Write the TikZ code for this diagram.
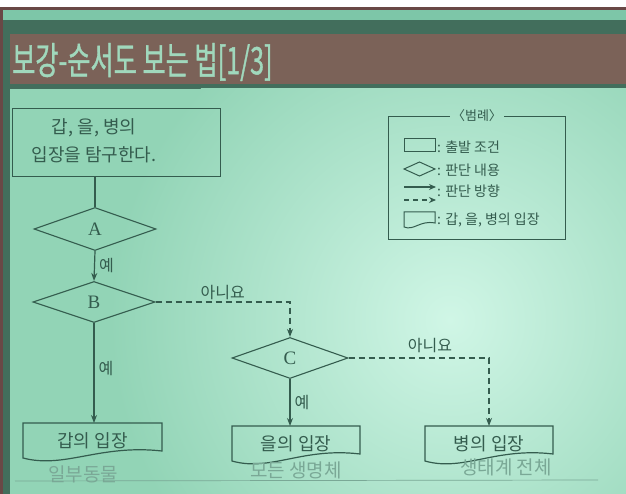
\documentclass[tikz,border=0pt]{standalone}
\usepackage{fontspec}
\setmainfont{Noto Sans CJK KR}
\newfontfamily\serifabc{Liberation Serif}
\newfontfamily\titlefont[FakeBold=1.2]{Noto Sans CJK KR}
\usetikzlibrary{shapes.geometric,arrows.meta,calc}
\definecolor{ink}{RGB}{52,92,78}
\definecolor{slideout}{RGB}{146,212,182}
\definecolor{slidein}{RGB}{208,246,230}
\definecolor{bandlight}{RGB}{125,198,168}
\definecolor{banddark}{RGB}{66,110,92}
\definecolor{titlebar}{RGB}{123,98,88}
\definecolor{titletext}{RGB}{160,216,188}
\definecolor{edgemaroon}{RGB}{105,72,70}
\definecolor{pencil}{RGB}{122,168,150}
\tikzset{
  flow/.style={draw=ink, line width=1.2pt},
  arr/.style={flow, -{Stealth[length=8pt,width=6pt]}},
  noarr/.style={flow, dash pattern=on 6pt off 4pt, -{Stealth[length=8pt,width=6pt]}},
  diam/.style={diamond, draw=ink, line width=1.1pt, inner sep=0pt, text=ink,
    font=\serifabc\fontsize{19}{19}\selectfont},
  lbl/.style={text=ink, font=\fontsize{16}{16}\selectfont, inner sep=1pt},
  boxtext/.style={text=ink, font=\fontsize{18}{28}\selectfont, align=center, inner sep=0pt},
  doctext/.style={text=ink, font=\fontsize{18}{18}\selectfont, inner sep=0pt, anchor=north, minimum height=36pt},
  legtext/.style={text=ink, font=\fontsize{14}{14}\selectfont, inner sep=0pt, anchor=west},
  hand/.style={text=pencil, font=\fontsize{19}{19}\selectfont, inner sep=0pt}
}
\newcommand\docbox[5]{%
  \node[doctext, minimum width=#4] (#1) at (#2+#4/2,#3) {#5};
  \draw[flow] (#2,#3) -- (#2+#4,#3) -- (#2+#4,#3+28)
    .. controls (#2+0.55*#4,#3+21) and (#2+0.3*#4,#3+46) .. (#2,#3+35) -- cycle;
}
\begin{document}
\begin{tikzpicture}[x=1pt,y=-1pt]
\useasboundingbox (0,0) rectangle (626,494);
% frame and bands
\fill[white] (-2,-2) rectangle (628,7);
\fill[edgemaroon] (-2,7) rectangle (628,10);
\fill[bandlight] (-2,10) rectangle (628,20);
\fill[banddark] (-2,20) rectangle (628,34);
\fill[titlebar] (-2,34) rectangle (628,84);
\fill[banddark] (-2,84) rectangle (628,89);
\fill[slideout] (10,89) rectangle (628,496);
\begin{scope}
  \clip (10,89) rectangle (628,496);
  \shade[inner color=slidein, outer color=slideout] (450,320) circle (340);
\end{scope}
\fill[banddark] (3,34) rectangle (10,496);
\fill[edgemaroon] (-2,7) rectangle (3,496);
\node[text=titletext, anchor=west, inner sep=0pt] (title) at (12,62)
  {\scalebox{0.70}[1.05]{\titlefont\fontsize{36}{36}\selectfont 보강-순서도 보는 법[1/3]}};

% start box
\node[draw=ink, line width=1.1pt, minimum width=208pt, minimum height=68pt,
  anchor=north west, inner sep=0pt] (start) at (12,108) {};
\node[boxtext] (starttxt) at (94,141) {갑, 을, 병의\\입장을 탐구한다.};

% diamonds
\node[diam, minimum width=122pt, minimum height=43pt] (A) at (95,229) {A};
\node[diam, minimum width=122pt, minimum height=41pt] (B) at (94,302) {B};
\node[diam, minimum width=116pt, minimum height=41pt] (C) at (290,358) {C};

% positions (documents)
\docbox{gap}{23}{423}{139}{갑의 입장}
\docbox{eul}{232}{426}{128}{을의 입장}
\docbox{byeong}{425}{426}{128}{병의 입장}

% connectors
\draw[flow] (A.north |- start.south) -- (A.north);
\draw[arr] (A.south) -- node[lbl, right, xshift=3pt] {예} (B.north);
\draw[arr] (B.south) -- node[lbl, right, xshift=3pt, pos=0.45] {예} (B.south |- gap.north);
\draw[noarr] (B.east) -- node[lbl, above, yshift=1pt, pos=0.5] {아니요} (C.north |- B.east) -- (C.north);
\draw[arr] (C.south) -- node[lbl, right, xshift=3pt] {예} (C.south |- eul.north);
\draw[noarr] (C.east) -- node[lbl, above, yshift=4pt, pos=0.58] {아니요} (byeong.north |- C.east) -- (byeong.north);

% legend
\node[text=ink, font=\fontsize{13}{13}\selectfont, inner sep=2pt] (legtitle) at (477,116) {〈범례〉};
\draw[ink, line width=0.9pt] (legtitle.west) -- (388,116) -- (388,239) -- (565,239) -- (565,116) -- (legtitle.east);
\draw[ink, line width=1pt] (404,139) rectangle (435,152);
\node[legtext] (l1) at (437,147) {: 출발 조건};
\draw[ink, line width=1pt] (404,169) -- (419.5,162) -- (435,169) -- (419.5,176) -- cycle;
\node[legtext] (l2) at (437,170) {: 판단 내용};
\coordinate (s1) at (404,187); \coordinate (s2) at (436,187);
\draw[ink, line width=1.3pt, -{Stealth[length=7pt,width=6pt]}] (s1) -- (s2);
\coordinate (d1) at (404,200); \coordinate (d2) at (436,200);
\draw[ink, line width=1.3pt, dash pattern=on 5pt off 4pt, -{Stealth[length=7pt,width=6pt]}] (d1) -- (d2);
\node[legtext] (l3) at (437,191) {: 판단 방향};
\draw[ink, line width=1pt] (404,212) -- (435,212) -- (435,223)
  .. controls (420,220) and (414,231) .. (404,227) -- cycle;
\node[legtext] (l4) at (437,220) {: 갑, 을, 병의 입장};

% handwritten pencil notes
\coordinate (p1) at (15,481); \coordinate (p2) at (598,480);
\draw[pencil, line width=0.7pt] (p1) -- (p2);
\node[hand] (h1) at (83,474) {일부동물};
\node[hand] (h2) at (296,470) {모든 생명체};
\node[hand] (h3) at (506,467) {생태계 전체};
\end{tikzpicture}
\end{document}
